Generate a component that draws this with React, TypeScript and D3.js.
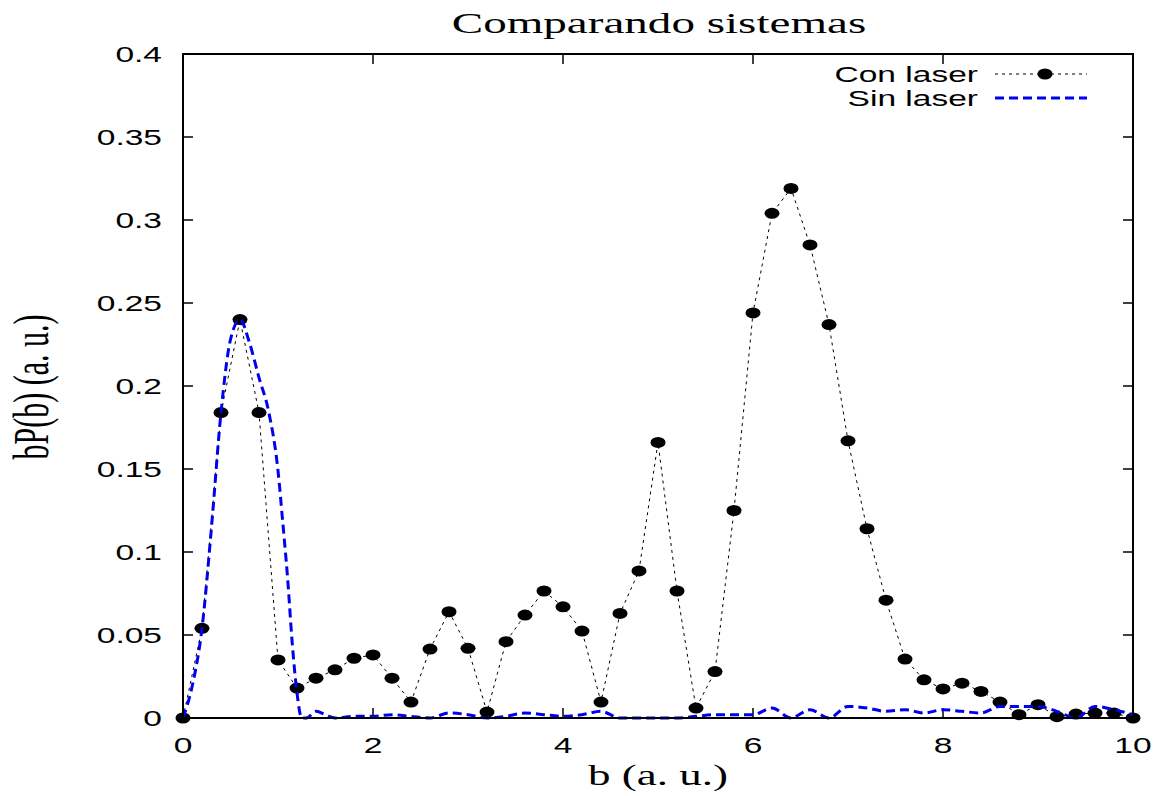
import React from "react";
import * as d3 from "d3";

const conLaserX = d3.range(0, 51).map((i) => +(i * 0.2).toFixed(1));
const conLaserY = [
  0, 0.054, 0.184, 0.24, 0.184, 0.035, 0.018, 0.024, 0.029, 0.036,
  0.038, 0.024, 0.0096, 0.0415, 0.064, 0.042, 0.0036, 0.046, 0.062, 0.0765,
  0.067, 0.0524, 0.0096, 0.063, 0.0886, 0.166, 0.0765, 0.006, 0.028, 0.125,
  0.244, 0.304, 0.319, 0.285, 0.237, 0.167, 0.114, 0.071, 0.0355, 0.023,
  0.0175, 0.021, 0.016, 0.0096, 0.002, 0.008, 0.0008, 0.0024, 0.003, 0.003, 0,
];

const sinLaserX = [
  0, 0.1, 0.2, 0.3, 0.4, 0.5, 0.6, 0.7, 0.8, 0.9, 1.0, 1.05, 1.1, 1.15, 1.2, 1.25,
  1.3, 1.4, 1.5, 1.6, 1.8, 2.0, 2.2, 2.4, 2.6, 2.8, 3.0, 3.2, 3.4, 3.6, 3.8,
  4.0, 4.2, 4.4, 4.6, 4.8, 5.0, 5.2, 5.4, 5.6, 5.8, 6.0, 6.2, 6.4, 6.6, 6.8,
  7.0, 7.2, 7.4, 7.6, 7.8, 8.0, 8.2, 8.4, 8.6, 8.8, 9.0, 9.2, 9.4, 9.6, 9.8, 10.0,
];
const sinLaserY = [
  0, 0.02, 0.054, 0.115, 0.184, 0.228, 0.24, 0.226, 0.205, 0.185, 0.149, 0.118, 0.085, 0.045, 0.015, 0,
  0, 0.004, 0.002, 0, 0.001, 0.001, 0.002, 0.001, 0, 0.003, 0.002, 0, 0.001, 0.003, 0.002,
  0.001, 0.002, 0.004, 0, 0, 0, 0, 0.001, 0.002, 0.002, 0.002, 0.006, 0, 0.005, 0,
  0.007, 0.006, 0.004, 0.005, 0.003, 0.005, 0.004, 0.003, 0.007, 0.007, 0.007, 0.004, 0, 0.007, 0.005, 0.002,
];

const xTicks = [0, 2, 4, 6, 8, 10];
const yTicks = [0, 0.05, 0.1, 0.15, 0.2, 0.25, 0.3, 0.35, 0.4];
const yTickLabels = ["0", "0.05", "0.1", "0.15", "0.2", "0.25", "0.3", "0.35", "0.4"];

const W = 1166;
const H = 796;
const L = 183, R = 1133, T = 54, B = 718;
const SX = 1.56;
const SANS = "'Liberation Sans', Arial, Helvetica, sans-serif";
const SERIF = "'Liberation Serif', 'Times New Roman', serif";

export default function App() {
  const x = d3.scaleLinear().domain([0, 10]).range([L, R]);
  const y = d3.scaleLinear().domain([0, 0.4]).range([B, T]);

  const conPts = conLaserX.map((v, i) => [v, conLaserY[i]] as [number, number]);
  const sinPts = sinLaserX.map((v, i) => [v, sinLaserY[i]] as [number, number]);

  const lineLin = d3.line<[number, number]>().x((d) => x(d[0])).y((d) => y(d[1]));
  const lineSmooth = d3
    .line<[number, number]>()
    .x((d) => x(d[0]))
    .y((d) => y(d[1]))
    .curve(d3.curveMonotoneX);

  const tickLen = 10;

  return (
    <svg
      width={W}
      height={H}
      style={{ position: "absolute", left: 0, top: 0, background: "#fff" }}
    >
      <rect x={0} y={0} width={W} height={H} fill="#fff" />
      {/* title */}
      <g transform={`translate(659,33) scale(1.57,1)`}>
        <text textAnchor="middle" fontFamily={SERIF} fontSize={30} fill="#000">
          Comparando sistemas
        </text>
      </g>
      {/* x label */}
      <g transform={`translate(658,785) scale(1.5,1)`}>
        <text textAnchor="middle" fontFamily={SERIF} fontSize={30} fill="#000">
          b (a. u.)
        </text>
      </g>
      {/* y label */}
      <g transform={`translate(48,387) scale(1.7,1) rotate(-90)`}>
        <text textAnchor="middle" fontFamily={SERIF} fontSize={30} fill="#000">
          bP(b) (a. u.)
        </text>
      </g>

      {/* ticks */}
      {yTicks.map((t, i) => (
        <g key={"yt" + i}>
          <line x1={L} x2={L + tickLen} y1={y(t)} y2={y(t)} stroke="#000" strokeWidth={1.5} />
          <line x1={R} x2={R - tickLen} y1={y(t)} y2={y(t)} stroke="#000" strokeWidth={1.5} />
          <g transform={`translate(${L - 21},${y(t)}) scale(${SX},1)`}>
            <text textAnchor="end" dy="0.35em" fontFamily={SANS} fontSize={21.5} fill="#000">
              {yTickLabels[i]}
            </text>
          </g>
        </g>
      ))}
      {xTicks.map((t, i) => (
        <g key={"xt" + i}>
          <line x1={x(t)} x2={x(t)} y1={B} y2={B - tickLen} stroke="#000" strokeWidth={1.5} />
          <line x1={x(t)} x2={x(t)} y1={T} y2={T + tickLen} stroke="#000" strokeWidth={1.5} />
          <g transform={`translate(${x(t)},753) scale(${SX},1)`}>
            <text textAnchor="middle" fontFamily={SANS} fontSize={21.5} fill="#000">
              {t}
            </text>
          </g>
        </g>
      ))}

      {/* Con laser */}
      <path
        d={lineLin(conPts) || ""}
        fill="none"
        stroke="#000"
        strokeWidth={1}
        strokeDasharray="3,4"
      />
      {conPts.map((p, i) => (
        <ellipse key={"c" + i} cx={x(p[0])} cy={y(p[1])} rx={7.5} ry={5.5} fill="#000" />
      ))}

      {/* Sin laser */}
      <path
        d={lineSmooth(sinPts) || ""}
        fill="none"
        stroke="#0000ee"
        strokeWidth={3}
        strokeDasharray="9,5"
      />

      {/* frame */}
      <rect x={L} y={T} width={R - L} height={B - T} fill="none" stroke="#000" strokeWidth={2} />

      {/* legend */}
      <g transform={`translate(978,74) scale(${SX},1)`}>
        <text textAnchor="end" dy="0.35em" fontFamily={SANS} fontSize={21.5} fill="#000">
          Con laser
        </text>
      </g>
      <line x1={995} x2={1087} y1={74} y2={74} stroke="#000" strokeWidth={1} strokeDasharray="3,4" />
      <ellipse cx={1045} cy={74} rx={7.5} ry={5.5} fill="#000" />
      <g transform={`translate(978,98) scale(${SX},1)`}>
        <text textAnchor="end" dy="0.35em" fontFamily={SANS} fontSize={21.5} fill="#000">
          Sin laser
        </text>
      </g>
      <line x1={995} x2={1087} y1={98} y2={98} stroke="#0000ee" strokeWidth={3} strokeDasharray="9,5" />
    </svg>
  );
}
